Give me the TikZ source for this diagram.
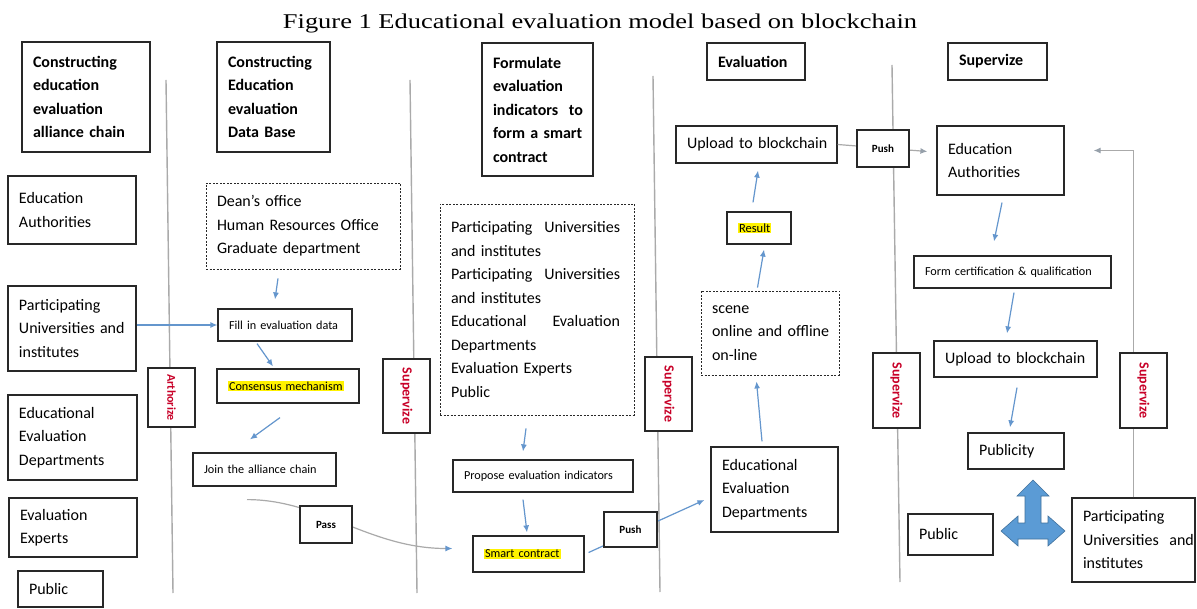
\documentclass[tikz,border=0pt]{standalone}
\usepackage{fontspec}
\setmainfont{Carlito}
\newfontfamily\titlefont[FakeStretch=1.26]{Liberation Serif}
\usetikzlibrary{arrows.meta,calc}
\definecolor{arrowblue}{RGB}{100,150,205}
\definecolor{vgray}{RGB}{170,170,170}
\definecolor{lgray}{RGB}{150,160,170}
\definecolor{boxline}{RGB}{40,40,40}
\definecolor{supred}{RGB}{200,0,40}
\definecolor{blockfill}{RGB}{91,155,213}
\definecolor{blockline}{RGB}{65,113,156}
\newcommand\hlt[1]{{\setlength{\fboxsep}{1pt}\colorbox{yellow}{#1}}}
\newcommand\mkbox[7]{%
 \pgfmathsetmacro\mkW{#5-#3}\pgfmathsetmacro\mkH{#6-#4}\pgfmathsetmacro\mkT{#5-#3-22}%
 \pgfmathsetmacro\mkX{(#3+#5)/2}\pgfmathsetmacro\mkY{(#4+#6)/2}%
 \node[#1, minimum width=\mkW pt, minimum height=\mkH pt, text width=\mkT pt] (#2) at (\mkX,\mkY) {#7};}
\tikzset{
 box/.style={draw=boxline, line width=1.2pt, fill=white, rectangle, inner xsep=11pt, inner ysep=2pt, align=left},
 dbox/.style={box, line width=0.9pt, dash pattern=on 2pt off 1.5pt},
 hdr/.style={font=\fontsize{16}{23.5}\selectfont\bfseries},
 body/.style={font=\fontsize{16}{23.5}\selectfont},
 smalltxt/.style={font=\fontsize{12.2}{15}\selectfont},
 tag/.style={font=\fontsize{11}{13}\selectfont\bfseries, align=center},
 vtag/.style={draw=boxline, line width=1.2pt, fill=white, rotate=-90, inner sep=0pt, text=supred, font=\fontsize{14}{16}\selectfont\bfseries},
 vline/.style={draw=vgray, line width=1.4pt},
 arr/.style={draw=arrowblue, line width=1.2pt, -{Latex[length=7pt,width=6pt]}},
 garr/.style={draw=vgray, line width=1.2pt, -{Latex[length=7pt,width=6pt,color=arrowblue]}},
 garrb/.style={draw=vgray, line width=1.2pt, -{Latex[length=7pt,width=6pt,color=lgray]}},
}
\begin{document}
\begin{tikzpicture}[x=1pt,y=-1pt]
\useasboundingbox (0,0) rectangle (1197,609);
\fill[white] (0,0) rectangle (1197,609);
\node[font=\titlefont\fontsize{21}{24}\selectfont, anchor=base, inner sep=0pt] (title) at (600,29) {Figure 1 Educational evaluation model based on blockchain};

% column separators
\coordinate (v1t) at (166,80); \coordinate (v1b) at (173,593);
\coordinate (v2t) at (410,80); \coordinate (v2b) at (417,593);
\coordinate (v3t) at (653,76); \coordinate (v3b) at (660,592);
\coordinate (v4t) at (892,65); \coordinate (v4b) at (900,582);
\draw[vline] (v1t) -- (v1b);
\draw[vline] (v2t) -- (v2b);
\draw[vline] (v3t) -- (v3b);
\draw[vline] (v4t) -- (v4b);

% headers
\mkbox{box,hdr}{h1}{22}{42}{150}{152}{Constructing\\education\\evaluation\\alliance~chain}
\mkbox{box,hdr}{h2}{217}{42}{330}{152}{Constructing\\Education\\evaluation\\Data~Base}
\mkbox{box,hdr}{h3}{482}{43}{593}{176}{Formulate\\evaluation\\indicators~~to\\form~a~smart\\contract}
\mkbox{box,hdr}{h4}{707}{43}{805}{80}{Evaluation}
\mkbox{box,hdr}{h5}{948}{43}{1047}{80}{Supervize}

% left column
\mkbox{box,body}{eaL}{8}{176}{136}{244}{Education\\Authorities}
\mkbox{box,body}{partL}{8}{286}{136}{371}{Participating\\Universities~and\\institutes}
\mkbox{box,body}{eedL}{8}{395}{137}{480}{Educational\\Evaluation\\Departments}
\mkbox{box,body}{expL}{9}{498}{137}{557}{Evaluation\\Experts}
\mkbox{box,body}{pubL}{18}{571}{103}{607}{Public}

% column 2
\mkbox{dbox,body}{dean}{206}{183}{400}{269}{Dean's office\\Human~Resources~Office\\Graduate department}
\mkbox{box,smalltxt}{fill}{218}{309}{352}{341}{Fill in evaluation data}
\mkbox{box,smalltxt}{cons}{217}{369}{359}{403}{\hlt{Consensus mechanism}}
\mkbox{box,smalltxt}{join}{193}{453}{336}{486}{Join the alliance chain}

% column 3
\mkbox{dbox,body}{dashC}{440}{204}{634}{415}{\makebox[169pt][l]{Participating\hfill Universities}\\and institutes\\\makebox[169pt][l]{Participating\hfill Universities}\\and institutes\\\makebox[169pt][l]{Educational\hfill Evaluation}\\Departments\\Evaluation Experts\\Public}
\mkbox{box,smalltxt}{propose}{453}{460}{633}{492}{Propose evaluation indicators}
\mkbox{box,smalltxt}{smart}{473}{536}{584}{572}{\hlt{Smart contract}}

% column 4
\mkbox{box,body}{upA}{676}{126}{837}{163}{\mbox{Upload to blockchain}}
\mkbox{box,smalltxt,font=\fontsize{12.5}{15}\selectfont}{result}{727}{212}{791}{244}{\hlt{Result}}
\mkbox{dbox,body}{scene}{701}{291}{839}{375}{scene\\\mbox{online and offline}\\on-line}
\mkbox{box,body}{eed}{711}{447}{838}{532}{Educational\\Evaluation\\Departments}

% column 5
\mkbox{box,body}{eaR}{937}{126}{1064}{195}{Education\\Authorities}
\mkbox{box,smalltxt}{form}{914}{256}{1111}{288}{Form certification \& qualification}
\mkbox{box,body}{upB}{934}{341}{1097}{377}{\mbox{Upload to blockchain}}
\mkbox{box,body}{publicity}{968}{433}{1064}{469}{Publicity}
\mkbox{box,body}{pubR}{908}{514}{993}{555}{Public}
\mkbox{box,body}{partR}{1072}{498}{1195}{582}{Participating\\\mbox{Universities\ \ and}\\institutes}

% vertical tags on separators
\node[vtag, minimum width=59pt, minimum height=47pt, font=\fontsize{12}{14}\selectfont\bfseries] (auth) at (171.5,397.5) {Arthorize};
\node[vtag, minimum width=74pt, minimum height=47pt] (sup1) at (406.5,396) {Supervize};
\node[vtag, minimum width=74pt, minimum height=47pt] (sup2) at (668.5,394) {Supervize};
\node[vtag, minimum width=75pt, minimum height=47pt] (sup3) at (896.5,390.5) {Supervize};

% connectors
\draw[arr] ($(dean.south)+(-25,9)$) -- ($(fill.north)+(-10,-9)$);
\draw[arr] (fill.west -| partL.east) -- (fill.west);
\draw[arr] ($(fill.south)+(-28,2)$) -- ($(cons.north)+(-15,-2)$);
\draw[arr] ($(cons.south)+(-8,14)$) -- ($(join.north)+(-14.5,-13)$);
\coordinate (passS) at ($(join.south)+(-17.5,13)$);
\coordinate (passE) at ($(smart.west)+(-20,-5.5)$);
\draw[garr] (passS) .. controls ($(passS)+(73,0)$) and ($(passE)+(-83,0)$) .. (passE);
\mkbox{box,tag}{pass}{300}{506}{352}{543}{Pass}
\draw[arr] ($(dashC.south)+(-11,13)$) -- ($(propose.north)+(-20,-8)$);
\draw[arr] ($(propose.south)+(-20,7)$) -- ($(smart.north)+(-1.5,-3)$);
\draw[arr] ($(smart.east)+(4,-1.5)$) -- ($(eed.west)+(-6,10.5)$);
\mkbox{box,tag}{pushA}{604}{512}{657}{547}{Push}
\draw[arr] ($(eed.north)+(-12.5,-5)$) -- ($(scene.south)+(-13.5,6)$);
\draw[arr] ($(scene.north)+(-12.5,-3)$) -- ($(result.south)+(5,5)$);
\draw[arr] ($(result.north)+(-6,-9)$) -- ($(upA.south)+(1.5,7)$);
\draw[garrb] (upA.east) -- ($(eaR.west)+(-9,-9)$);
\mkbox{box,tag}{pushB}{857}{130}{909}{167}{Push}
\draw[arr] ($(eaR.south)+(1.5,7)$) -- ($(form.north)+(-18.5,-14)$);
\draw[arr] ($(form.south)+(1.5,4)$) -- ($(upB.north)+(-8.5,-7)$);
\draw[arr] ($(upB.south)+(1.5,10)$) -- ($(publicity.north)+(-6,-5)$);
\coordinate (supEnd) at ($(eaR.east)+(29,-10)$);
\draw[garrb] (partR.north) |- (supEnd);
\node[vtag, minimum width=75pt, minimum height=47pt] (sup4) at (1143.5,390.5) {Supervize};

% three-way block arrow
\draw[fill=blockfill, draw=blockline, line width=0.6pt, line join=miter]
 (1033,480) -- (1049,496) -- (1041,496) -- (1041,523) -- (1048,523) -- (1048,516) -- (1065,531)
 -- (1048,546) -- (1048,539) -- (1018,539) -- (1018,546) -- (1001,531) -- (1018,516)
 -- (1018,523) -- (1025,523) -- (1025,496) -- (1017,496) -- cycle;
\end{tikzpicture}
\end{document}
